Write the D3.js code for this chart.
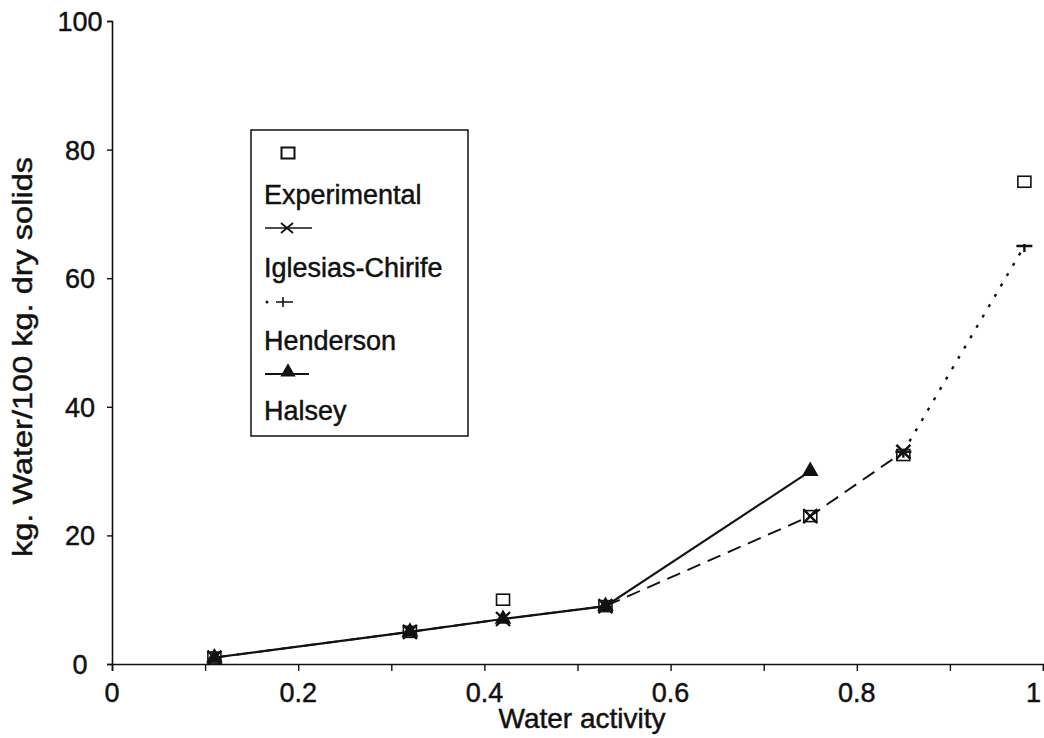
<!DOCTYPE html>
<html><head><meta charset="utf-8">
<script src="https://cdn.jsdelivr.net/npm/d3@7"></script>
<style>
html,body{margin:0;padding:0;background:#fff;}
svg text{font-family:"Liberation Sans",Arial,Helvetica,sans-serif;fill:#111;stroke:#111;stroke-width:0.45px;}
</style></head>
<body>
<svg id="chart" width="1044" height="738"></svg>
<script>
// ---- data ----
const awAll = [0.11, 0.32, 0.42, 0.53, 0.75, 0.85, 0.98];
const experimental = [1, 5, 10, 9, 23, 32.5, 75];
const iglesiasAw = [0.11, 0.32, 0.42, 0.53, 0.75, 0.85];
const iglesias = [1, 5, 7, 9, 23, 33];
const hendersonAw = [0.85, 0.98];
const henderson = [33, 65];
const halseyAw = [0.11, 0.32, 0.42, 0.53, 0.75];
const halsey = [1, 5, 7, 9, 30];
const xTickLabels = ["0", "0.2", "0.4", "0.6", "0.8", "1"];
const xTickValues = [0, 0.2, 0.4, 0.6, 0.8, 1];
const yTickValues = [0, 20, 40, 60, 80, 100];
const legendLabels = ["Experimental", "Iglesias-Chirife", "Henderson", "Halsey"];
const xTitle = "Water activity";
const yTitle = "kg. Water/100 kg. dry solids";

const svg = d3.select("#chart");
const x = d3.scaleLinear().domain([0, 1]).range([112, 1043]);
const y = d3.scaleLinear().domain([0, 100]).range([664, 21]);

// axes
const xAxis = d3.axisBottom(x).tickValues(d3.range(0, 1.01, 0.1)).tickSize(7).tickFormat("");
const gx = svg.append("g").attr("transform", `translate(0,${y(0)})`).call(xAxis);
gx.select(".domain").attr("stroke", "#111").attr("stroke-width", 1.6);
gx.selectAll(".tick line").attr("stroke", "#111").attr("stroke-width", 1.4);

const yAxis = d3.axisLeft(y).tickValues(yTickValues).tickSize(5).tickFormat("");
const gy = svg.append("g").attr("transform", `translate(${x(0)},0)`).call(yAxis);
gy.select(".domain").attr("stroke", "#111").attr("stroke-width", 1.6);
gy.selectAll(".tick line").attr("stroke", "#111").attr("stroke-width", 1.4);

// tick labels
svg.append("g").selectAll("text").data(xTickValues).join("text")
  .attr("x", d => d === 1 ? 1041 : x(d)).attr("y", 702)
  .attr("text-anchor", d => d === 1 ? "end" : "middle").attr("font-size", 27)
  .text((d, i) => xTickLabels[i]);
svg.append("g").selectAll("text").data(yTickValues).join("text")
  .attr("x", 80).attr("y", d => y(d) + 10)
  .attr("text-anchor", "middle").attr("font-size", 27)
  .text(d => d);

// titles
svg.append("text").attr("x", 582).attr("y", 728).attr("text-anchor", "middle")
  .attr("font-size", 28).text(xTitle);
svg.append("text").attr("transform", `translate(32,357) rotate(-90)`)
  .attr("text-anchor", "middle").attr("font-size", 27)
  .attr("textLength", 400).attr("lengthAdjust", "spacingAndGlyphs").text(yTitle);

// lines
const line = d3.line().x(d => x(d[0])).y(d => y(d[1]));
const zip = (a, b) => a.map((v, i) => [v, b[i]]);

svg.append("path").datum(zip(hendersonAw, henderson)).attr("d", line)
  .attr("fill", "none").attr("stroke", "#111").attr("stroke-width", 2.4)
  .attr("stroke-dasharray", "3,9");
svg.append("path").datum(zip(iglesiasAw, iglesias)).attr("d", line)
  .attr("fill", "none").attr("stroke", "#111").attr("stroke-width", 1.9)
  .attr("stroke-dasharray", "14,8");
svg.append("path").datum(zip(halseyAw, halsey)).attr("d", line)
  .attr("fill", "none").attr("stroke", "#111").attr("stroke-width", 2.1);

// markers
const sqW = 13, sqH = 11;
svg.append("g").selectAll("rect").data(zip(awAll, experimental)).join("rect")
  .attr("x", d => x(d[0]) - sqW / 2).attr("y", d => y(d[1]) - sqH / 2)
  .attr("width", sqW).attr("height", sqH)
  .attr("fill", "none").attr("stroke", "#111").attr("stroke-width", 1.6);

svg.append("g").selectAll("path").data(zip(hendersonAw, henderson)).join("path")
  .attr("transform", d => `translate(${x(d[0])},${y(d[1])})`)
  .attr("d", "M-8,0H8M0,-2V6").attr("fill", "none").attr("stroke", "#111").attr("stroke-width", 2.4);

svg.append("g").selectAll("path").data(zip(iglesiasAw, iglesias)).join("path")
  .attr("transform", d => `translate(${x(d[0])},${y(d[1])})`)
  .attr("d", "M-7,-7L7,7M-7,7L7,-7").attr("fill", "none").attr("stroke", "#111").attr("stroke-width", 2.4);

svg.append("g").selectAll("path").data(zip(halseyAw, halsey)).join("path")
  .attr("transform", d => `translate(${x(d[0])},${y(d[1])})`)
  .attr("d", d3.symbol().type(d3.symbolTriangle).size(120)).attr("fill", "#111");

// legend
const lg = svg.append("g");
lg.append("rect").attr("x", 251).attr("y", 130).attr("width", 217).attr("height", 306)
  .attr("fill", "#fff").attr("stroke", "#111").attr("stroke-width", 1.5);
lg.append("rect").attr("x", 288 - sqW / 2).attr("y", 153 - sqH / 2).attr("width", sqW).attr("height", sqH)
  .attr("fill", "none").attr("stroke", "#111").attr("stroke-width", 2);
const textY = [204, 277, 350, 420];
lg.selectAll("text").data(legendLabels).join("text")
  .attr("x", 264).attr("y", (d, i) => textY[i]).attr("font-size", 27).text(d => d);
// Iglesias sample
lg.append("line").attr("x1", 265).attr("x2", 312).attr("y1", 228).attr("y2", 228)
  .attr("stroke", "#111").attr("stroke-width", 1.3);
lg.append("path").attr("transform", "translate(287,228)").attr("d", "M-6,-5L6,5M-6,5L6,-5")
  .attr("fill", "none").attr("stroke", "#111").attr("stroke-width", 1.8);
// Henderson sample
lg.append("circle").attr("cx", 267).attr("cy", 302).attr("r", 1.5).attr("fill", "#111");
lg.append("path").attr("transform", "translate(283,302)").attr("d", "M-7,0H10M0,-5V5")
  .attr("fill", "none").attr("stroke", "#111").attr("stroke-width", 1.6);
// Halsey sample
lg.append("line").attr("x1", 265).attr("x2", 309).attr("y1", 374).attr("y2", 374)
  .attr("stroke", "#111").attr("stroke-width", 1.8);
lg.append("path").attr("transform", "translate(288,372)")
  .attr("d", d3.symbol().type(d3.symbolTriangle).size(100)).attr("fill", "#111");
</script>
</body></html>
